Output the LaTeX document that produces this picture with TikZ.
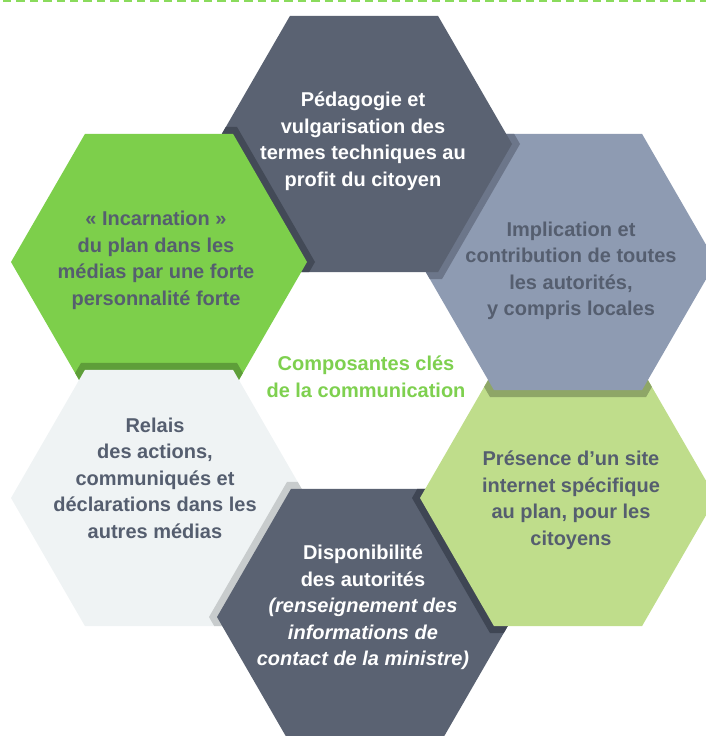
\documentclass[tikz,border=0pt]{standalone}
\usepackage{fontspec}
\setmainfont{Liberation Sans}
\definecolor{darkhex}{HTML}{5A6272}
\definecolor{darkhexsh}{HTML}{434A57}
\definecolor{darkhexshb}{HTML}{3F4654}
\definecolor{bluehex}{HTML}{8E9BB2}
\definecolor{bluehexsh}{HTML}{6C768A}
\definecolor{greenhex}{HTML}{7DCF4B}
\definecolor{greenhexsh}{HTML}{5E9E39}
\definecolor{lgreenhex}{HTML}{BFDD8B}
\definecolor{lgreenhexsh}{HTML}{8EA667}
\definecolor{greyhex}{HTML}{EFF3F4}
\definecolor{greyhexsh}{HTML}{C8CCCD}
\definecolor{textdark}{HTML}{555E6F}
\definecolor{titlegreen}{HTML}{7ED04F}
\definecolor{dashgreen}{HTML}{8ADB5C}
\newcommand\hexfill[3]{\fill[#1] (#2) ++(0:#3) -- ++(120:#3) -- ++(180:#3) -- ++(240:#3) -- ++(300:#3) -- ++(0:#3) -- cycle;}
\newcommand\hexclip[2]{\clip (#1) ++(0:#2) -- ++(120:#2) -- ++(180:#2) -- ++(240:#2) -- ++(300:#2) -- ++(0:#2) -- cycle;}
\tikzset{
  hextext/.style={align=center, inner sep=0pt, font=\fontsize{20}{26.5}\selectfont\bfseries, text=#1},
}
\begin{document}
\begin{tikzpicture}[x=1pt,y=-1pt]
\useasboundingbox (0,0) rectangle (706,736);
\clip (0,0) rectangle (706,736);
\coordinate (cT) at (364,144);
\coordinate (cUL) at (159,262);
\coordinate (cUR) at (568,262);
\coordinate (cLL) at (159,498);
\coordinate (cLR) at (568,498);
\coordinate (cB) at (365,617);
% dashed top rule
\draw[dashgreen, line width=2.4pt, dash pattern=on 8.4pt off 5pt, dash phase=-3pt] (0,1) -- (706,1);
% hexagons with cyclic overlap
\hexfill{greyhex}{cLL}{148}
\begin{scope}\hexclip{cLL}{148}\hexfill{greyhexsh}{cB}{156}\end{scope}
\hexfill{darkhex}{cB}{148}
\begin{scope}\hexclip{cB}{148}\hexfill{darkhexshb}{cLR}{156}\end{scope}
\hexfill{lgreenhex}{cLR}{148}
\begin{scope}\hexclip{cLR}{148}\hexfill{lgreenhexsh}{cUR}{156}\end{scope}
\hexfill{bluehex}{cUR}{148}
\begin{scope}\hexclip{cUR}{148}\hexfill{bluehexsh}{cT}{156}\end{scope}
\hexfill{darkhex}{cT}{148}
\begin{scope}\hexclip{cT}{148}\hexfill{darkhexsh}{cUL}{156}\end{scope}
\hexfill{greenhex}{cUL}{148}
\begin{scope}\hexclip{cUL}{148}\hexfill{greenhexsh}{cLL}{156}\end{scope}
\begin{scope}\hexclip{cUL}{151}\hexfill{greyhex}{cLL}{148}\end{scope}
% texts
\node[hextext=white] (tT) at (363,141) {Pédagogie et\\vulgarisation des\\termes techniques au\\profit du citoyen};
\node[hextext=textdark] (tUL) at (156,260.5) {« Incarnation »\\du plan dans les\\médias par une forte\\personnalité forte};
\node[hextext=textdark] (tUR) at (571,271) {Implication et\\contribution de toutes\\les autorités,\\y compris locales};
\node[hextext=textdark] (tLL) at (155,478) {Relais\\des actions,\\communiqués et\\déclarations dans les\\autres médias};
\node[hextext=textdark] (tLR) at (571,500) {Présence d’un site\\internet spécifique\\au plan, pour les\\citoyens};
\node[hextext=white] (tB) at (363,607.5) {Disponibilité\\des autorités\\\textit{(renseignement des}\\\textit{informations de}\\\textit{contact de la ministre)}};
\node[hextext=titlegreen] (tC) at (366,377) {Composantes clés\\de la communication};
\end{tikzpicture}
\end{document}
